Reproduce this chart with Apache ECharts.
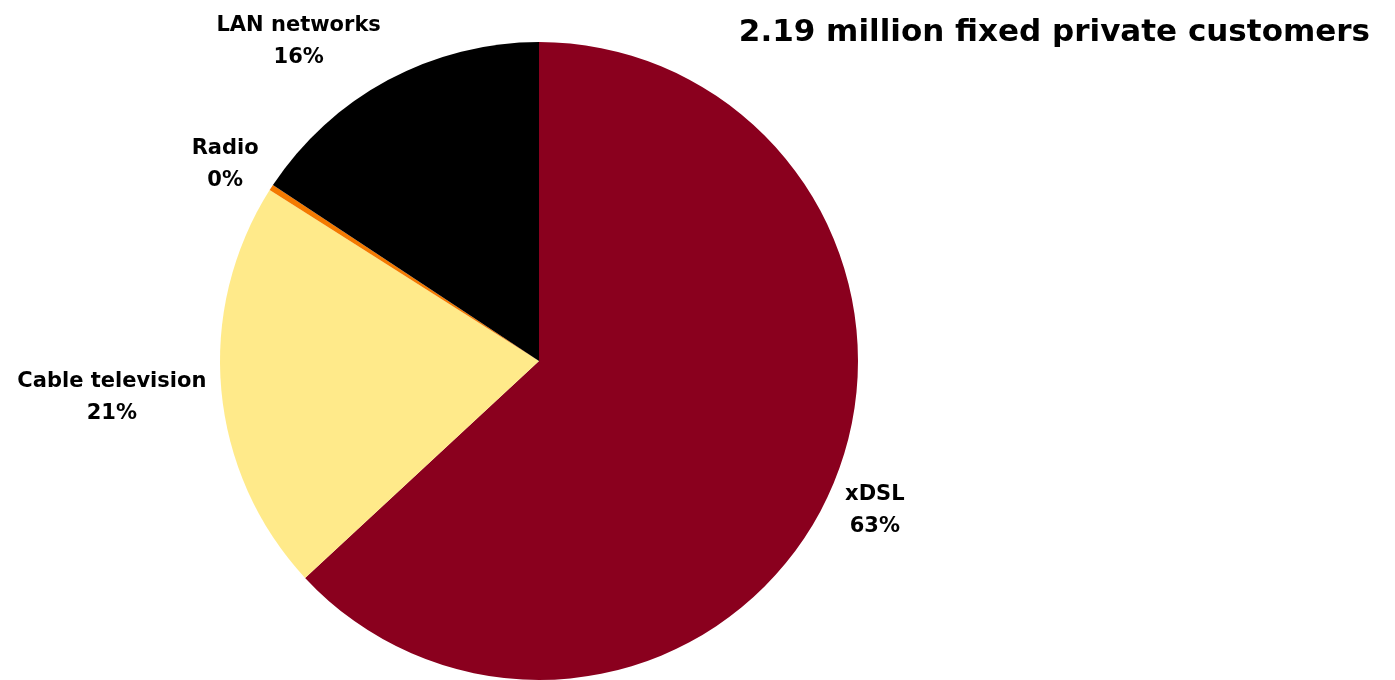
<!DOCTYPE html>
<html>
<head>
<meta charset="utf-8">
<script src="https://cdn.jsdelivr.net/npm/echarts@6/dist/echarts.min.js"></script>
<style>
html,body{margin:0;padding:0;background:#fff;}
#chart{width:1395px;height:680px;}
</style>
</head>
<body>
<div id="chart"></div>
<script>
var categories = ['xDSL', 'Cable television', 'Radio', 'LAN networks'];
var shares = [63.1, 20.9, 0.3, 15.7];
var colors = ['#8A001E', '#FFEA8A', '#F47A00', '#000000'];
var titleText = '2.19 million fixed private customers';

var FONT = '"DejaVu Sans", sans-serif';
var CX = 539, CY = 361, R = 319, LABEL_R = 334;
var total = shares.reduce(function (a, b) { return a + b; }, 0);
var mids = [];
var acc = 0;
shares.forEach(function (v) {
  mids.push((acc + v / 2) / total * 2 * Math.PI);
  acc += v;
});

var chart = echarts.init(document.getElementById('chart'));
chart.setOption({
  animation: false,
  title: {
    text: titleText,
    right: 20,
    top: 12,
    textStyle: { fontFamily: FONT, fontWeight: 'bold', fontSize: 31, color: '#000' }
  },
  series: [{
    type: 'pie',
    center: [CX, CY],
    radius: [0, R],
    startAngle: 90,
    clockwise: true,
    percentPrecision: 0,
    avoidLabelOverlap: false,
    itemStyle: { borderWidth: 0 },
    label: {
      show: true,
      position: 'outside',
      formatter: '{b}\n{d}%',
      fontFamily: FONT,
      fontWeight: 'bold',
      fontSize: 21,
      lineHeight: 32,
      color: '#000',
      align: 'center'
    },
    labelLine: { show: false },
    labelLayout: function (p) {
      var a = mids[p.dataIndex];
      var dx = Math.sin(a), dy = -Math.cos(a);
      var ax = CX + LABEL_R * dx, ay = CY + LABEL_R * dy;
      var w = p.labelRect.width, h = p.labelRect.height;
      var cx = ax + (dx < 0 ? -w / 2 : w / 2);
      var cy = ay + dy * h / 2 + 3;
      return { x: cx, y: cy, align: 'center', verticalAlign: 'middle' };
    },
    data: categories.map(function (c, i) {
      return { name: c, value: shares[i], itemStyle: { color: colors[i] } };
    })
  }]
});
</script>
</body>
</html>
